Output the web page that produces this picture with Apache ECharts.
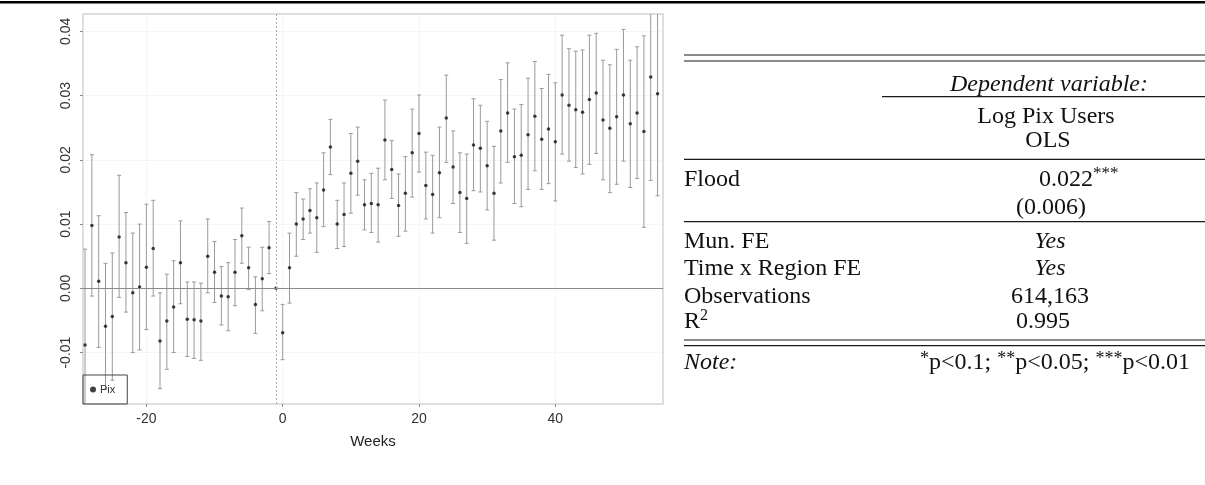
<!DOCTYPE html>
<html>
<head>
<meta charset="utf-8">
<script src="https://cdn.jsdelivr.net/npm/echarts@6/dist/echarts.min.js"></script>
<style>
  html, body { margin: 0; padding: 0; background: #fff; }
  #chart { width: 1205px; height: 485px; }
</style>
</head>
<body>
<div id="chart"></div>
<script>
// event-study estimates, weeks relative to the flood (week -1 is the reference)
const weeks = [];
for (let w = -29; w <= 55; w++) weeks.push(w);

const est = [
  -0.0088, 0.0098, 0.0011, -0.0059, -0.0044, 0.0080, 0.0040, -0.0007, 0.0002, 0.0033,
  0.0062, -0.0082, -0.0051, -0.0029, 0.0040, -0.0048, -0.0049, -0.0051, 0.0050, 0.0025,
  -0.0012, -0.0013, 0.0025, 0.0082, 0.0032, -0.0025, 0.0015, 0.0063, 0.0000, -0.0069,
  0.0032, 0.0100, 0.0108, 0.0121, 0.0110, 0.0153, 0.0220, 0.0100, 0.0115, 0.0179,
  0.0198, 0.0130, 0.0132, 0.0130, 0.0231, 0.0185, 0.0129, 0.0148, 0.0211, 0.0241,
  0.0160, 0.0146, 0.0180, 0.0265, 0.0189, 0.0149, 0.0140, 0.0223, 0.0218, 0.0191,
  0.0148, 0.0245, 0.0273, 0.0205, 0.0207, 0.0239, 0.0268, 0.0232, 0.0248, 0.0228,
  0.0301, 0.0285, 0.0278, 0.0274, 0.0294, 0.0304, 0.0262, 0.0249, 0.0267, 0.0301,
  0.0256, 0.0273, 0.0244, 0.0329, 0.0303
];

const upper = [
  0.0061, 0.0208, 0.0113, 0.0039, 0.0055, 0.0176, 0.0118, 0.0086, 0.0100, 0.0131,
  0.0137, -0.0007, 0.0022, 0.0043, 0.0105, 0.0010, 0.0010, 0.0008, 0.0108, 0.0073,
  0.0034, 0.0040, 0.0076, 0.0125, 0.0064, 0.0018, 0.0064, 0.0104, null, -0.0025,
  0.0086, 0.0149, 0.0139, 0.0155, 0.0164, 0.0211, 0.0263, 0.0137, 0.0164, 0.0241,
  0.0251, 0.0169, 0.0179, 0.0187, 0.0293, 0.0230, 0.0178, 0.0205, 0.0279, 0.0301,
  0.0212, 0.0207, 0.0251, 0.0332, 0.0245, 0.0211, 0.0209, 0.0295, 0.0285, 0.0260,
  0.0221, 0.0325, 0.0351, 0.0279, 0.0286, 0.0327, 0.0353, 0.0311, 0.0333, 0.0320,
  0.0394, 0.0373, 0.0369, 0.0371, 0.0394, 0.0397, 0.0355, 0.0348, 0.0372, 0.0403,
  0.0355, 0.0376, 0.0393, 0.0490, 0.0463
];

const lower = [
  -0.0237, -0.0012, -0.0092, -0.0157, -0.0143, -0.0014, -0.0037, -0.0100, -0.0096, -0.0064,
  -0.0012, -0.0156, -0.0126, -0.0100, -0.0024, -0.0106, -0.0109, -0.0112, -0.0007, -0.0022,
  -0.0057, -0.0066, -0.0027, 0.0039, -0.0002, -0.0070, -0.0035, 0.0023, null, -0.0111,
  -0.0023, 0.0050, 0.0076, 0.0086, 0.0056, 0.0096, 0.0177, 0.0062, 0.0065, 0.0117,
  0.0145, 0.0091, 0.0087, 0.0072, 0.0169, 0.0140, 0.0081, 0.0089, 0.0142, 0.0181,
  0.0108, 0.0086, 0.0110, 0.0196, 0.0132, 0.0087, 0.0070, 0.0152, 0.0150, 0.0122,
  0.0075, 0.0164, 0.0196, 0.0132, 0.0127, 0.0154, 0.0183, 0.0154, 0.0163, 0.0136,
  0.0209, 0.0198, 0.0188, 0.0178, 0.0193, 0.0210, 0.0169, 0.0149, 0.0162, 0.0198,
  0.0157, 0.0171, 0.0095, 0.0168, 0.0144
];

const xTicks = [-20, 0, 20, 40];
const yTicks = [-0.01, 0, 0.01, 0.02, 0.03, 0.04];

// regression table
const tableRows = ['Mun. FE', 'Time x Region FE', 'Observations'];
const tableVals = ['Yes', 'Yes', '614,163'];
const coefText = '0.022';
const seText = '(0.006)';
const r2Text = '0.995';

const serif = 'Liberation Serif';
const lineStyle = { stroke: '#1a1a1a', lineWidth: 1.2 };

function hline(x1, y, x2) {
  return { type: 'line', shape: { x1: x1, y1: y, x2: x2, y2: y }, style: lineStyle, silent: true };
}
function txt(x, y, text, align, italic, size) {
  return {
    type: 'text', x: x, y: y,
    style: {
      text: text, fill: '#111', font: (italic ? 'italic ' : '') + (size || 24) + 'px "' + serif + '"',
      textAlign: align || 'left', textVerticalAlign: 'middle'
    }
  };
}

const graphics = [
  { type: 'rect', shape: { x: 0, y: 1, width: 1205, height: 2.5 }, style: { fill: '#000' } },
  hline(684, 55, 1205), hline(684, 61, 1205),
  txt(1049, 85, 'Dependent variable:', 'center', true),
  hline(882, 96.7, 1205),
  txt(1046, 117, 'Log Pix Users', 'center'),
  txt(1048, 141, 'OLS', 'center'),
  hline(684, 159.3, 1205),
  txt(684, 180, 'Flood'),
  txt(1093, 180, coefText, 'right'),
  txt(1093, 174, '***', 'left', false, 17),
  txt(1051, 208, seText, 'center'),
  hline(684, 221.7, 1205),
  txt(684, 322, 'R'),
  txt(700, 316, '2', 'left', false, 16),
  txt(1043, 322, r2Text, 'center'),
  hline(684, 340, 1205), hline(684, 345.7, 1205),
  txt(684, 363, 'Note:', 'left', true),
  {
    type: 'text', x: 1190, y: 363,
    style: {
      text: '{s|*}p<0.1; {s|**}p<0.05; {s|***}p<0.01',
      font: '24px "' + serif + '"', fill: '#111',
      textAlign: 'right', textVerticalAlign: 'middle',
      rich: { s: { fontSize: 18, fontFamily: serif, verticalAlign: 'top', lineHeight: 26, fill: '#111' } }
    }
  }
];
const rowY = [242, 269, 297];
tableRows.forEach((r, i) => {
  graphics.push(txt(684, rowY[i], r));
  graphics.push(txt(1050, rowY[i], tableVals[i], 'center', i < 2));
});

const chart = echarts.init(document.getElementById('chart'));

const option = {
  animation: false,
  backgroundColor: '#fff',
  grid: {
    left: 83, top: 14, width: 580, height: 390,
    show: true, borderColor: '#d4d4d4', borderWidth: 1.5
  },
  legend: {
    data: ['Pix'],
    left: 83, top: 375,
    orient: 'vertical',
    padding: [9, 12, 9, 7],
    borderColor: '#444', borderWidth: 1,
    itemWidth: 6, itemHeight: 6, itemGap: 4,
    icon: 'circle',
    textStyle: { fontFamily: 'Liberation Sans', fontSize: 11, color: '#333', padding: [0, 0, 0, -1] }
  },
  xAxis: {
    type: 'value',
    min: -29.3, max: 55.8,
    name: 'Weeks',
    nameLocation: 'middle',
    nameGap: 30,
    nameTextStyle: { fontFamily: 'Liberation Sans', fontSize: 15, color: '#222' },
    axisLine: { show: false, onZero: false },
    axisTick: { show: true, customValues: xTicks, length: 3, lineStyle: { color: '#888' } },
    axisLabel: {
      customValues: xTicks, fontFamily: 'Liberation Sans', fontSize: 14, color: '#333', margin: 8
    },
    splitLine: { show: true, lineStyle: { color: '#ececec', type: 'dotted', width: 1 } }
  },
  yAxis: {
    type: 'value',
    min: -0.018, max: 0.0427,
    axisLine: { show: false, onZero: false },
    axisTick: { show: true, customValues: yTicks, length: 3, lineStyle: { color: '#888' } },
    axisLabel: {
      customValues: yTicks, rotate: 90, margin: 10,
      fontFamily: 'Liberation Sans', fontSize: 14, color: '#333',
      formatter: v => v.toFixed(2)
    },
    splitLine: { show: true, lineStyle: { color: '#ececec', type: 'dotted', width: 1 } }
  },
  series: [
    {
      name: 'CI',
      type: 'custom',
      clip: true,
      data: weeks.map((w, i) => [w, lower[i], upper[i]]).filter(d => d[1] !== null),
      encode: { x: 0, y: [1, 2] },
      renderItem: function (params, api) {
        const x = api.value(0);
        const lo = api.coord([x, api.value(1)]);
        const hi = api.coord([x, api.value(2)]);
        const cap = 2;
        const st = { stroke: '#9a9a9a', lineWidth: 1 };
        return {
          type: 'group',
          children: [
            { type: 'line', shape: { x1: lo[0], y1: lo[1], x2: hi[0], y2: hi[1] }, style: st },
            { type: 'line', shape: { x1: lo[0] - cap, y1: lo[1], x2: lo[0] + cap, y2: lo[1] }, style: st },
            { type: 'line', shape: { x1: hi[0] - cap, y1: hi[1], x2: hi[0] + cap, y2: hi[1] }, style: st }
          ]
        };
      },
      z: 2
    },
    {
      name: 'Pix',
      type: 'scatter',
      data: weeks.map((w, i) => [w, est[i]]),
      symbol: 'circle',
      symbolSize: 3.5,
      itemStyle: { color: '#111' },
      z: 3,
      markLine: {
        silent: true,
        symbol: ['none', 'none'],
        label: { show: false },
        data: [
          { yAxis: 0, lineStyle: { color: '#8a8a8a', type: 'solid', width: 1 } },
          { xAxis: -1, lineStyle: { color: '#aaa', type: [2, 2], width: 1 } }
        ]
      }
    }
  ],
  graphic: graphics
};

chart.setOption(option);

window.addEventListener('resize', function () {
  chart.resize();
});
</script>
</body>
</html>
